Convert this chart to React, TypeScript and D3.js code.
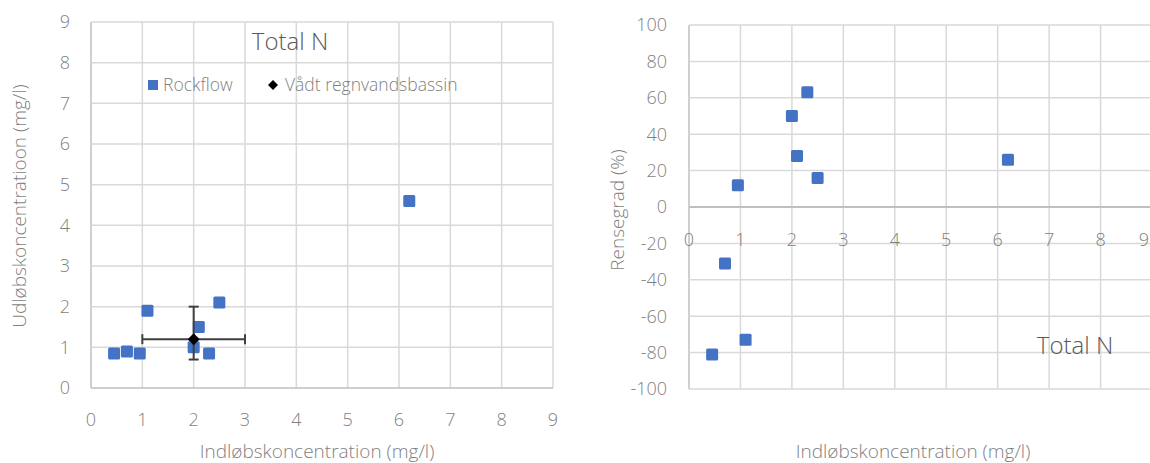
import React from "react";
import * as d3 from "d3";

const inflow = [0.45, 0.7, 0.95, 1.1, 2.0, 2.1, 2.3, 2.5, 6.2];
const outflow = [0.85, 0.9, 0.85, 1.9, 1.0, 1.5, 0.85, 2.1, 4.6];
const rensegrad = [-81, -31, 12, -73, 50, 28, 63, 16, 26];

const basinX = [2.0];
const basinY = [1.2];
const basinXErr = [[1.0, 3.0]];
const basinYErr = [[0.7, 2.0]];

const xTicks = [0, 1, 2, 3, 4, 5, 6, 7, 8, 9];
const yTicksLeft = [0, 1, 2, 3, 4, 5, 6, 7, 8, 9];
const yTicksRight = [-100, -80, -60, -40, -20, 0, 20, 40, 60, 80, 100];

const FONT = "'Open Sans', 'DejaVu Sans', sans-serif";
const GRID = "#d9d9d9";
const AXIS = "#bfbfbf";
const TXT = "#7f7f7f";
const BLUE = "#4472C4";

function Square({ cx, cy, s = 12 }: { cx: number; cy: number; s?: number }) {
  return <rect x={cx - s / 2} y={cy - s / 2} width={s} height={s} rx={1.5} fill={BLUE} />;
}

export default function App() {
  // Left chart
  const lx = d3.scaleLinear().domain([0, 9]).range([91, 553]);
  const ly = d3.scaleLinear().domain([0, 9]).range([388, 22]);
  // Right chart
  const rx = d3.scaleLinear().domain([0, 9]).range([689, 1152]);
  const ry = d3.scaleLinear().domain([-100, 100]).range([389, 25]);

  return (
    <svg width={1150} height={463} style={{ position: "absolute", left: 0, top: 0, background: "#fff" }} fontFamily={FONT}>
      <rect width={1150} height={463} fill="#fff" />
      {/* LEFT CHART */}
      <g>
        {xTicks.map((t) => (
          <line key={"lgx" + t} x1={lx(t)} x2={lx(t)} y1={ly(9)} y2={ly(0)} stroke={t === 0 ? AXIS : GRID} strokeWidth={1.5} />
        ))}
        {yTicksLeft.map((t) => (
          <line key={"lgy" + t} x1={lx(0)} x2={lx(9)} y1={ly(t)} y2={ly(t)} stroke={t === 0 ? AXIS : GRID} strokeWidth={1.5} />
        ))}
        {yTicksLeft.map((t) => (
          <text key={"lyt" + t} x={lx(0) - 21} y={ly(t)} dy="0.35em" textAnchor="end" fontSize={18} fontWeight={300} fill={TXT}>
            {t}
          </text>
        ))}
        {xTicks.map((t) => (
          <text key={"lxt" + t} x={lx(t)} y={420} dy="0.35em" textAnchor="middle" fontSize={18} fontWeight={300} fill={TXT}>
            {t}
          </text>
        ))}
        <text x={317} y={451} dy="0.35em" textAnchor="middle" fontSize={19} fontWeight={300} fill={TXT}>
          Indløbskoncentration (mg/l)
        </text>
        <text transform={`translate(19,206) rotate(-90)`} dy="0.35em" textAnchor="middle" fontSize={19} fontWeight={300} fill={TXT}>
          Udløbskoncentratioon (mg/l)
        </text>
        <text x={290} y={42} dy="0.35em" textAnchor="middle" fontSize={24} fontWeight={300} fill="#595959">
          Total N
        </text>
        {/* legend */}
        <rect x={148} y={80} width={10} height={10} fill={BLUE} />
        <text x={163} y={85} dy="0.35em" fontSize={17.5} fontWeight={300} fill={TXT}>Rockflow</text>
        <path d="M273,80 L278,85 L273,90 L268,85 Z" fill="#000" />
        <text x={285} y={85} dy="0.35em" fontSize={17.5} fontWeight={300} fill={TXT}>Vådt regnvandsbassin</text>
        {/* Rockflow points */}
        {inflow.map((v, i) => (
          <Square key={"lp" + i} cx={lx(v)} cy={ly(outflow[i])} />
        ))}
        {/* Basin with error bars */}
        {basinX.map((v, i) => (
          <g key={"b" + i} stroke="#404040" strokeWidth={2} fill="none">
            <line x1={lx(basinXErr[i][0])} x2={lx(basinXErr[i][1])} y1={ly(basinY[i])} y2={ly(basinY[i])} />
            <line x1={lx(basinXErr[i][0])} x2={lx(basinXErr[i][0])} y1={ly(basinY[i]) - 5} y2={ly(basinY[i]) + 5} />
            <line x1={lx(basinXErr[i][1])} x2={lx(basinXErr[i][1])} y1={ly(basinY[i]) - 5} y2={ly(basinY[i]) + 5} />
            <line x1={lx(v)} x2={lx(v)} y1={ly(basinYErr[i][0])} y2={ly(basinYErr[i][1])} />
            <line x1={lx(v) - 5} x2={lx(v) + 5} y1={ly(basinYErr[i][0])} y2={ly(basinYErr[i][0])} />
            <line x1={lx(v) - 5} x2={lx(v) + 5} y1={ly(basinYErr[i][1])} y2={ly(basinYErr[i][1])} />
            <path
              d={`M${lx(v)},${ly(basinY[i]) - 6} L${lx(v) + 6},${ly(basinY[i])} L${lx(v)},${ly(basinY[i]) + 6} L${lx(v) - 6},${ly(basinY[i])} Z`}
              fill="#000"
              stroke="none"
            />
          </g>
        ))}
      </g>

      {/* RIGHT CHART */}
      <g>
        {xTicks.map((t) => (
          <line key={"rgx" + t} x1={rx(t)} x2={rx(t)} y1={ry(100)} y2={ry(-100)} stroke={t === 0 ? AXIS : GRID} strokeWidth={1.5} />
        ))}
        {yTicksRight.map((t) => (
          <line key={"rgy" + t} x1={rx(0)} x2={rx(9)} y1={ry(t)} y2={ry(t)} stroke={t === 0 ? AXIS : GRID} strokeWidth={t === 0 ? 2 : 1.5} />
        ))}
        {yTicksRight.map((t) => (
          <text key={"ryt" + t} x={rx(0) - 22} y={ry(t)} dy="0.35em" textAnchor="end" fontSize={18} fontWeight={300} fill={TXT}>
            {t}
          </text>
        ))}
        {xTicks.map((t) => (
          <text
            key={"rxt" + t}
            x={t < 9 ? rx(t) : 1149}
            y={ry(0) + 33}
            dy="0.35em"
            textAnchor={t < 9 ? "middle" : "end"}
            fontSize={18}
            fontWeight={300}
            fill={TXT}
          >
            {t}
          </text>
        ))}
        <text x={913} y={451} dy="0.35em" textAnchor="middle" fontSize={19} fontWeight={300} fill={TXT}>
          Indløbskoncentration (mg/l)
        </text>
        <text transform={`translate(617,210) rotate(-90)`} dy="0.35em" textAnchor="middle" fontSize={19} fontWeight={300} fill={TXT}>
          Rensegrad (%)
        </text>
        <text x={1075} y={346} dy="0.35em" textAnchor="middle" fontSize={24} fontWeight={300} fill="#595959">
          Total N
        </text>
        {inflow.map((v, i) => (
          <Square key={"rp" + i} cx={rx(v)} cy={ry(rensegrad[i])} />
        ))}
      </g>
    </svg>
  );
}
